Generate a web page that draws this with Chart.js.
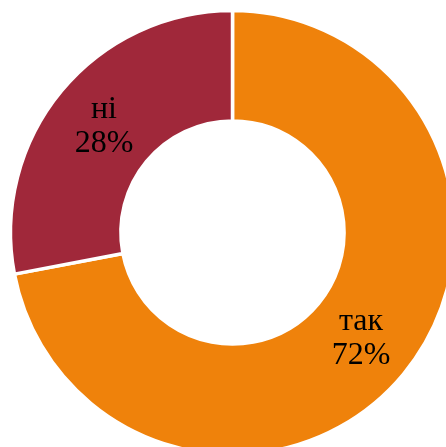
<!DOCTYPE html>
<html>
<head>
<meta charset="utf-8">
<script src="https://cdn.jsdelivr.net/npm/chart.js@4/dist/chart.umd.min.js"></script>
<style>
  html, body { margin: 0; padding: 0; background: #fff; overflow: hidden; }
  #wrap { position: absolute; left: 0; top: 0; width: 465px; height: 465px; }
</style>
</head>
<body>
<div id="wrap"><canvas id="myChart"></canvas></div>
<script>
const labels = ["так", "ні"];
const values = [72, 28];
const colors = ["#EF820B", "#A0283A"];

// draws "label / value%" in the middle of each slice
const sliceLabels = {
  id: "sliceLabels",
  afterDatasetsDraw(chart) {
    const ctx = chart.ctx;
    const meta = chart.getDatasetMeta(0);
    ctx.save();
    ctx.fillStyle = "#000";
    ctx.font = "32px 'Liberation Serif', 'Times New Roman', serif";
    ctx.textAlign = "center";
    ctx.textBaseline = "middle";
    meta.data.forEach((arc, i) => {
      const { x, y } = arc.getCenterPoint();
      ctx.fillText(labels[i], x, y - 17);
      ctx.fillText(values[i] + "%", x, y + 17);
    });
    ctx.restore();
  },
};

const ctx = document.getElementById("myChart");

const myChart = new Chart(ctx, {
  type: "doughnut",
  data: {
    labels: labels,
    datasets: [
      {
        data: values,
        backgroundColor: colors,
        borderColor: "#FFFFFF",
        borderWidth: 3.5,
      },
    ],
  },
  options: {
    responsive: true,
    maintainAspectRatio: false,
    animation: false,
    radius: 222,
    cutout: 116,
    layout: { padding: 0 },
    plugins: {
      legend: { display: false },
      tooltip: { enabled: false },
    },
  },
  plugins: [sliceLabels],
});
</script>
</body>
</html>
